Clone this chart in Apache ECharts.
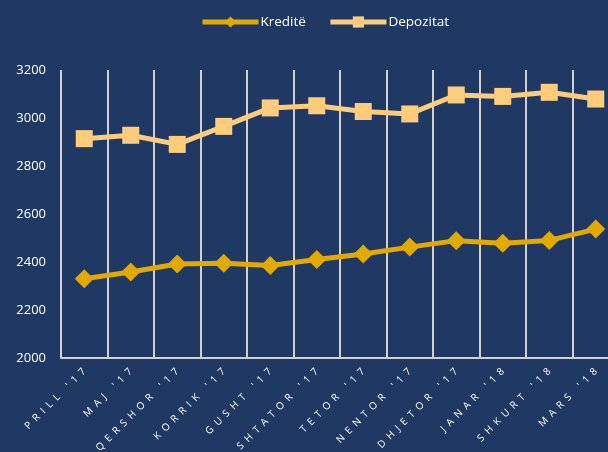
<!DOCTYPE html>
<html>
<head>
<meta charset="utf-8">
<script src="https://cdn.jsdelivr.net/npm/echarts@6/dist/echarts.min.js"></script>
<style>
html,body{margin:0;padding:0;background:#203864;}
#chart{width:608px;height:452px;}
</style>
</head>
<body>
<div id="chart"></div>
<script>
// muajt
var muajt = ["PRILL '17", "MAJ '17", "QERSHOR '17", "KORRIK '17", "GUSHT '17", "SHTATOR '17",
	"TETOR '17", "NENTOR '17", "DHJETOR '17", "JANAR '18", "SHKURT '18", "MARS '18"];
var kredite = [2330, 2358, 2392, 2395, 2385, 2410, 2433, 2462, 2489, 2478, 2490, 2537];
var depozitat = [2914, 2928, 2890, 2965, 3042, 3051, 3027, 3017, 3096, 3090, 3107, 3079];
var yTicks = [2000, 2200, 2400, 2600, 2800, 3000, 3200];

var myChart = echarts.init(document.getElementById('chart'));
var option = {
	backgroundColor: '#203864',
	textStyle: { fontFamily: 'Open Sans' },
	legend: {
		top: 10,
		left: 195,
		itemWidth: 56,
		itemHeight: 14,
		itemGap: 22,
		lineStyle: { width: 5 },
		textStyle: { color: '#ffffff', fontSize: 13.5, padding: [0, 0, 0, -3] },
		data: ['Kreditë', 'Depozitat']
	},
	grid: {
		left: 61,
		width: 558,
		top: 70,
		bottom: 94,
		outerBoundsMode: 'none',
		containLabel: false
	},
	xAxis: {
		type: 'category',
		data: muajt,
		boundaryGap: true,
		axisLine: { lineStyle: { color: '#d0d0d0', width: 2 } },
		axisTick: { show: false },
		splitLine: { show: true, lineStyle: { color: '#d0d0d0', width: 2 } },
		axisLabel: {
			color: '#ffffff',
			fontSize: 10,
			rotate: 45,
			interval: 0,
			margin: 12,
			formatter: function (v) {
				// hapësira midis shkronjave
				return v.split('').join('\u2002');
			}
		}
	},
	yAxis: {
		type: 'value',
		min: yTicks[0],
		max: yTicks[yTicks.length - 1],
		interval: 200,
		axisLine: { show: false },
		axisTick: { show: false },
		splitLine: { show: false },
		axisLabel: {
			color: '#ffffff',
			fontSize: 13,
			margin: 15,
			formatter: function (v) { return String(v); }
		}
	},
	series: [
		{
			name: 'Kreditë',
			type: 'line',
			data: kredite,
			symbol: 'diamond',
			symbolSize: 19,
			color: '#e2a900',
			lineStyle: { width: 5, color: '#e2a900' },
			itemStyle: { color: '#e2a900' },
			z: 3
		},
		{
			name: 'Depozitat',
			type: 'line',
			data: depozitat,
			symbol: 'rect',
			symbolSize: 17,
			color: '#ffcc7c',
			lineStyle: { width: 5, color: '#ffcc7c' },
			itemStyle: { color: '#ffcc7c' },
			z: 3
		}
	]
};
myChart.setOption(option);
</script>
</body>
</html>
